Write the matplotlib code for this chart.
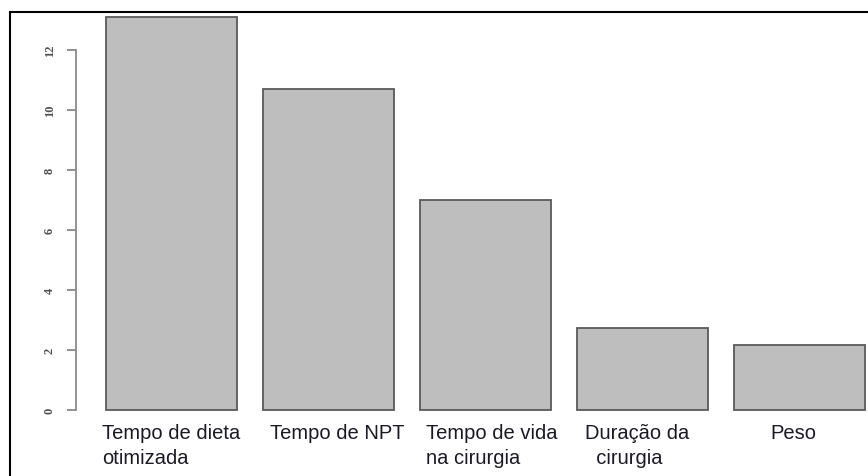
import matplotlib.pyplot as plt
from matplotlib.patches import Rectangle

# variables ranked by importance
nomes = ['Tempo de dieta\notimizada', 'Tempo de NPT', 'Tempo de vida\nna cirurgia',
         'Duração da\n  cirurgia', 'Peso']
valores = [13.1, 10.7, 7.0, 2.73, 2.17]
yticks = [0, 2, 4, 6, 8, 10, 12]

W, H = 868, 477
fig = plt.figure(figsize=(W / 100, H / 100), dpi=100)
ax = fig.add_axes([0, 0, 1, 1])

# barplot-style layout: width 1, space 0.2
lefts = [0.2 + 1.2 * i for i in range(len(valores))]
px_per_x = 130.9
px_per_y = 30.0
x0_px, y0_px = 106, 411
ax.set_xlim(0.2 - x0_px / px_per_x, 0.2 + (W - x0_px) / px_per_x)
ax.set_ylim(-(H - y0_px) / px_per_y, y0_px / px_per_y)

ax.bar(lefts, valores, width=1.0, align='edge', color='#bebebe',
       edgecolor='#5a5a5a', linewidth=1.3)

for s in ['top', 'right', 'bottom']:
    ax.spines[s].set_visible(False)
ax.spines['left'].set_position(('data', 0.2 - 30 / px_per_x))
ax.spines['left'].set_bounds(0, 12)
ax.spines['left'].set_color('#8a8a8a')
ax.spines['left'].set_linewidth(1.3)
ax.set_xticks([])
ax.set_yticks(yticks)
ax.set_yticklabels([str(v) for v in yticks], rotation=90, va='center',
                   family='Liberation Serif', fontsize=9, fontweight='bold',
                   color='#505050')
ax.tick_params(axis='y', direction='out', length=6.5, width=1.3,
               color='#8a8a8a', pad=8)

# category names under the bars
offsets = [0.0, 0.07, 0.05, -0.04, -0.05]
for left, nome, off in zip(lefts, nomes, offsets):
    ax.text(left + 0.5 + off, -0.45, nome, ha='center', va='top',
            multialignment='left', family='Liberation Sans', fontsize=14.5,
            color='#1a1a24', linespacing=1.35)

# frame line along top and left edges
fig.add_artist(Rectangle((9.5 / W, -0.1), 1.2, (H - 12.5) / H + 0.1,
                         transform=fig.transFigure, fill=False,
                         edgecolor='black', linewidth=1.5))

fig.savefig('out.png', dpi=100)
